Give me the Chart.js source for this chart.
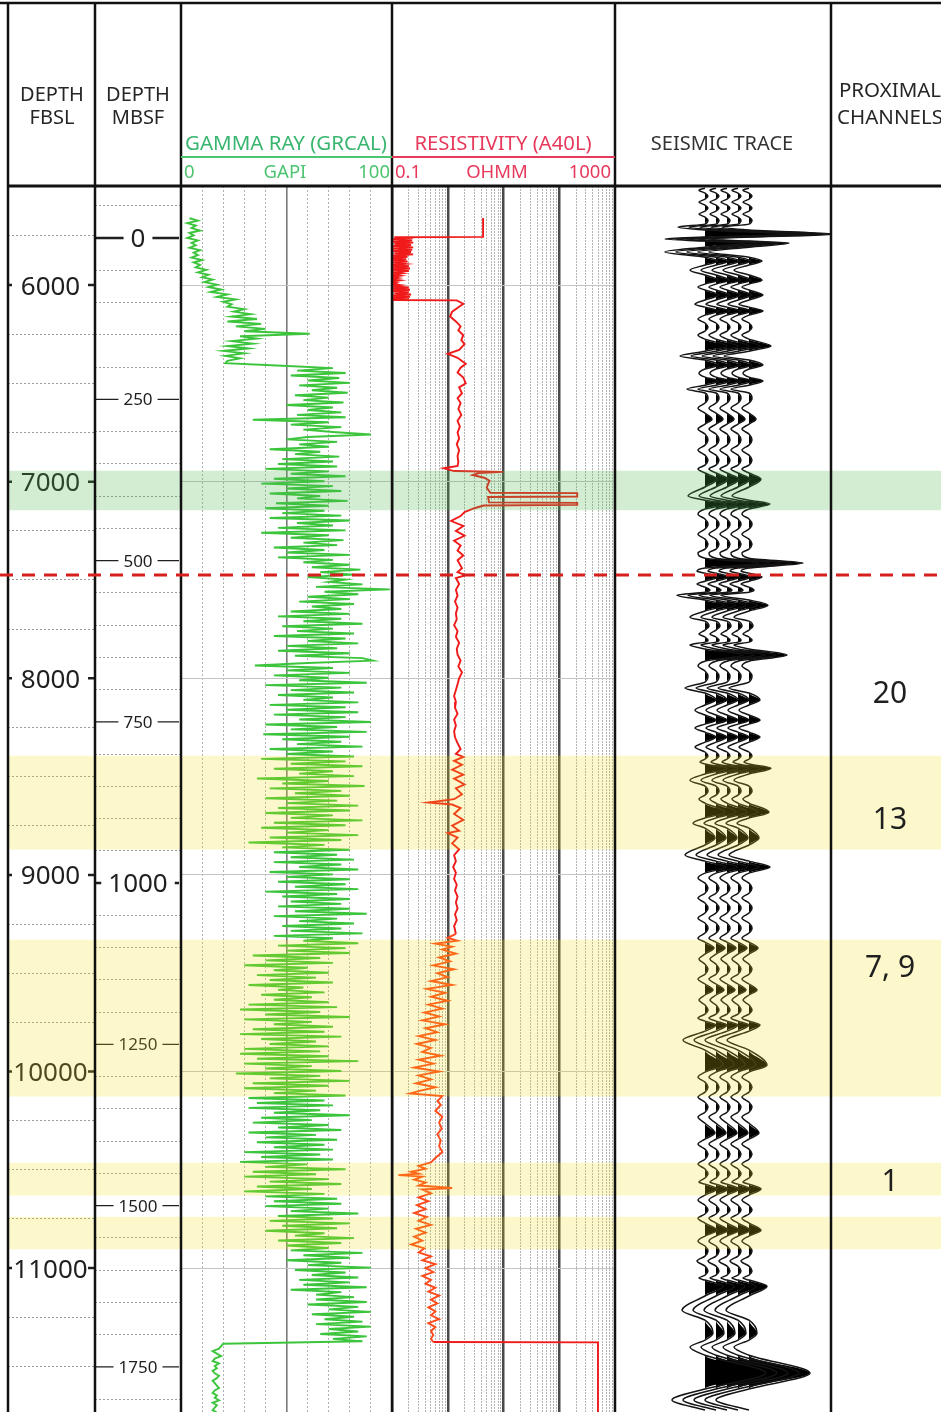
<!DOCTYPE html>
<html lang="en">
<head>
<meta charset="utf-8">
<title>Well log</title>
<script src="https://cdn.jsdelivr.net/npm/chart.js@4.4.1/dist/chart.umd.min.js"></script>
<style>
html, body { margin: 0; padding: 0; background: #fff; }
body { position: relative; width: 941px; height: 1412px; overflow: hidden; }
canvas { position: absolute; }
</style>
</head>
<body>
<canvas id="fbsl" width="87" height="1226" style="left:8px; top:186px"></canvas>
<canvas id="mbsf" width="86" height="1226" style="left:95px; top:186px"></canvas>
<canvas id="gr" width="211" height="1226" style="left:181px; top:186px"></canvas>
<canvas id="res" width="223" height="1226" style="left:392px; top:186px"></canvas>
<canvas id="seis" width="216" height="1226" style="left:615px; top:186px"></canvas>
<canvas id="overlay" width="941" height="1412" style="left:0; top:0"></canvas>
<script>
// depth window shown (ft below sea level)
const depthMin = 5496
const depthMax = 11732

// depth tracks
const fbslLabels = [6000, 7000, 8000, 9000, 10000, 11000]
const mbsfLabels = [0, 250, 500, 750, 1000, 1250, 1500, 1750]
const mbsfBigLabels = [0, 1000]
const seafloorFt = 5761
const ftPerM = 3.2808

// gamma ray, sampled every 12.5 ft from 5660 ft
const grTopDepth = 5660
const grStepFt = 12.5
const grValues = [
  4, 8, 3, 7, 5, 9, 4, 6, 3, 8, 5, 7, 4, 9, 6, 8, 5, 10, 6, 9,
  7, 12, 8, 13, 10, 15, 11, 17, 13, 19, 14, 22, 17, 26, 20, 24, 22, 30, 25, 33,
  24, 36, 22, 38, 26, 40, 30, 61, 28, 36, 24, 34, 22, 32, 20, 30, 21, 28, 22, 21,
  48, 72, 55, 78, 52, 75, 60, 80, 56, 74, 62, 79, 54, 70, 58, 77, 50, 72, 60, 76,
  55, 78, 34, 70, 52, 76, 58, 72, 90, 60, 50, 74, 56, 70, 42, 66, 54, 75, 48, 72,
  46, 74, 40, 70, 52, 78, 44, 68, 38, 72, 50, 76, 42, 66, 55, 79, 45, 70, 40, 68,
  48, 76, 42, 80, 55, 72, 46, 78, 38, 70, 52, 77, 58, 74, 44, 68, 50, 80, 46, 72,
  58, 80, 62, 85, 66, 82, 60, 78, 70, 86, 64, 99, 68, 84, 60, 80, 56, 82, 62, 76,
  52, 80, 46, 76, 58, 86, 48, 72, 55, 82, 44, 78, 60, 84, 50, 74, 46, 80, 54, 86,
  91, 60, 35, 72, 50, 80, 44, 70, 56, 88, 40, 76, 52, 82, 46, 72, 58, 84, 42, 78,
  50, 84, 44, 78, 56, 90, 40, 74, 52, 88, 39, 80, 48, 76, 55, 86, 42, 72, 50, 82,
  38, 78, 52, 86, 44, 72, 56, 82, 36, 70, 48, 87, 42, 76, 54, 80, 40, 74, 50, 84,
  46, 80, 40, 72, 52, 86, 44, 78, 38, 70, 50, 84, 42, 76, 32, 68, 48, 80, 44, 74,
  52, 82, 44, 76, 56, 84, 42, 72, 50, 80, 46, 78, 54, 84, 40, 74, 48, 80, 52, 76,
  46, 80, 54, 88, 44, 74, 56, 82, 48, 76, 52, 86, 44, 72, 58, 84, 46, 78, 50, 80,
  34, 66, 40, 72, 30, 60, 44, 70, 36, 64, 42, 72, 32, 58, 46, 68, 38, 62, 44, 70,
  32, 74, 28, 66, 40, 80, 30, 62, 44, 72, 34, 68, 28, 76, 38, 64, 42, 70, 30, 66,
  28, 70, 36, 84, 30, 62, 40, 76, 26, 66, 42, 80, 34, 70, 30, 64, 44, 78, 32, 68,
  36, 72, 32, 66, 44, 80, 38, 62, 34, 70, 46, 76, 32, 64, 40, 74, 36, 68, 44, 72,
  30, 66, 38, 72, 28, 60, 40, 78, 34, 64, 30, 70, 42, 76, 36, 62, 30, 68, 40, 74,
  44, 76, 40, 70, 52, 84, 46, 72, 42, 80, 48, 74, 40, 68, 54, 82, 46, 76, 50, 70,
  52, 86, 58, 80, 50, 76, 60, 90, 54, 78, 62, 84, 56, 80, 58, 88, 52, 76, 64, 82,
  64, 88, 60, 84, 70, 90, 62, 82, 68, 86, 64, 90, 70, 84, 66, 88, 72, 86, 20, 19,
  18, 15, 17, 19, 16, 15, 18, 16, 17, 15, 16, 18, 17, 15, 16, 17, 18, 16, 15, 17,
  16, 18, 15, 17, 16, 15, 17, 16
]
const grTicks = [0, 10, 20, 30, 40, 50, 60, 70, 80, 90, 100]

// resistivity [depth ft, ohmm]
const resLog = [
  [5659, 4.3], [5755, 4.3], [5757, 0.11],
  [5760, 0.24], [5766, 0.1], [5772, 0.23], [5778, 0.1], [5784, 0.24], [5790, 0.11], [5796, 0.22],
  [5802, 0.1], [5808, 0.24], [5814, 0.1], [5820, 0.23], [5826, 0.1], [5832, 0.22], [5838, 0.11],
  [5844, 0.24], [5850, 0.1], [5856, 0.19], [5862, 0.1], [5868, 0.18], [5874, 0.1], [5880, 0.19],
  [5886, 0.11], [5892, 0.17], [5898, 0.1], [5904, 0.2], [5910, 0.1], [5916, 0.21], [5922, 0.1],
  [5928, 0.2], [5934, 0.11], [5940, 0.15], [5946, 0.1], [5952, 0.14], [5958, 0.1], [5964, 0.13],
  [5970, 0.1], [5976, 0.14], [5982, 0.1], [5988, 0.12], [5994, 0.1], [6000, 0.14], [6006, 0.1],
  [6012, 0.2], [6018, 0.1], [6024, 0.21], [6030, 0.1], [6036, 0.2], [6042, 0.11], [6048, 0.22],
  [6054, 0.1], [6060, 0.21], [6066, 0.1], [6072, 0.2], [6076, 0.1],
  [6078, 1.45], [6095, 1.9], [6110, 1.6],
  [6135, 1.2], [6160, 1.1], [6185, 1.4], [6210, 1.7], [6230, 1.55], [6255, 1.9], [6280, 1.75],
  [6300, 2.0], [6330, 1.6], [6350, 1.0], [6370, 1.5], [6400, 2.1], [6420, 1.7], [6445, 1.5],
  [6470, 1.9], [6500, 2.1], [6520, 1.6], [6550, 1.8], [6575, 1.5], [6600, 1.7], [6630, 1.55],
  [6660, 1.75], [6690, 1.5], [6720, 1.65], [6750, 1.5], [6780, 1.6], [6810, 1.45], [6840, 1.6],
  [6870, 1.5], [6900, 1.55], [6920, 1.5], [6932, 0.85], [6946, 1.3], [6950, 9.8], [6956, 3.6],
  [6966, 2.8], [6980, 4.5], [6995, 5.6], [7030, 5.0], [7056, 5.8], [7058, 210], [7075, 210],
  [7078, 5.3], [7105, 5.5], [7108, 210], [7118, 210], [7121, 4.4], [7135, 3.0], [7155, 2.0],
  [7175, 1.7], [7200, 1.15], [7225, 1.9], [7250, 1.4], [7275, 2.0], [7300, 1.3], [7325, 1.7],
  [7350, 1.5], [7375, 1.9], [7400, 1.5], [7440, 1.8], [7460, 1.5], [7475, 2.1], [7490, 1.4],
  [7520, 1.6], [7550, 1.4], [7580, 1.5], [7610, 1.35], [7640, 1.5], [7670, 1.4], [7700, 1.45],
  [7730, 1.3], [7760, 1.5], [7790, 1.4], [7820, 1.6], [7850, 1.45], [7880, 1.5], [7910, 1.7],
  [7940, 1.55], [7970, 1.8], [8000, 1.6], [8030, 1.5], [8060, 1.4], [8090, 1.3], [8120, 1.4],
  [8150, 1.35], [8180, 1.5], [8210, 1.3], [8240, 1.4], [8270, 1.3], [8300, 1.35], [8330, 1.5],
  [8360, 1.7], [8385, 1.4], [8400, 1.9], [8420, 1.3], [8440, 1.8], [8465, 1.2], [8490, 1.9],
  [8510, 1.3], [8540, 2.0], [8560, 1.4], [8590, 1.8], [8615, 1.3], [8632, 0.45], [8642, 1.2],
  [8660, 1.7], [8690, 1.3], [8720, 1.9], [8750, 1.2], [8775, 1.6], [8787, 1.0], [8810, 1.5],
  [8840, 1.2], [8870, 1.6], [8900, 1.3], [8930, 1.4], [8960, 1.25], [8990, 1.4], [9020, 1.3],
  [9050, 1.45], [9080, 1.35], [9110, 1.5], [9140, 1.4], [9170, 1.5], [9200, 1.35], [9230, 1.45],
  [9260, 1.3], [9300, 1.4], [9320, 1.0], [9335, 1.5], [9350, 0.6], [9365, 1.2], [9380, 0.8],
  [9400, 1.4], [9420, 0.7], [9440, 1.1], [9460, 0.55], [9480, 1.3], [9500, 0.65], [9520, 1.0],
  [9540, 0.5], [9560, 1.2], [9580, 0.42], [9600, 0.9], [9620, 0.5], [9640, 1.0], [9660, 0.45],
  [9680, 0.8], [9700, 0.38], [9720, 0.7], [9740, 0.35], [9760, 0.9], [9780, 0.4], [9800, 0.65],
  [9820, 0.3], [9840, 0.6], [9860, 0.28], [9880, 0.5], [9900, 0.35], [9920, 0.75], [9940, 0.3],
  [9960, 0.55], [9980, 0.25], [10000, 0.7], [10020, 0.3], [10040, 0.5], [10060, 0.27], [10080, 0.6],
  [10100, 0.3], [10112, 0.21], [10125, 0.8], [10150, 0.65], [10170, 0.75], [10200, 0.6], [10230, 0.8],
  [10260, 0.7], [10290, 0.78], [10320, 0.65], [10350, 0.75], [10380, 0.7], [10410, 0.8], [10440, 0.6],
  [10462, 0.5], [10480, 0.3], [10495, 0.4], [10510, 0.22], [10520, 0.3], [10527, 0.13], [10535, 0.35],
  [10550, 0.25], [10565, 0.4], [10580, 0.3], [10593, 1.2], [10600, 0.35], [10620, 0.5], [10640, 0.3],
  [10660, 0.45], [10680, 0.28], [10700, 0.4], [10720, 0.25], [10740, 0.42], [10760, 0.3], [10780, 0.5],
  [10800, 0.27], [10820, 0.4], [10840, 0.25], [10860, 0.35], [10880, 0.22], [10900, 0.38], [10920, 0.3],
  [10940, 0.5], [10960, 0.35], [10980, 0.6], [11000, 0.4], [11020, 0.55], [11040, 0.35], [11060, 0.5],
  [11080, 0.4], [11100, 0.6], [11120, 0.45], [11140, 0.7], [11160, 0.5], [11180, 0.65], [11200, 0.45],
  [11220, 0.6], [11240, 0.5], [11260, 0.7], [11280, 0.45], [11300, 0.6], [11320, 0.5], [11340, 0.55],
  [11360, 0.5], [11376, 0.55], [11378, 495], [11740, 495]
]
const resDecades = [0.1, 1, 10, 100]
const resMultipliers = [1, 2, 3, 4, 5, 6, 7, 8, 9]

// seismic trace [depth ft, amplitude], repeated for each trace
const seismicTrace = [
  [5507, 0], [5517, -6], [5532, 0], [5547, 3], [5563, 0], [5578, -6], [5593, 0], [5608, 3],
  [5624, 0], [5639, -6], [5654, 0], [5669, 3], [5690, 0], [5705, -27], [5720, 0], [5741, 85],
  [5756, 0], [5766, -40], [5776, 0], [5786, 40], [5807, 0], [5832, -40], [5858, 0], [5878, 13],
  [5898, 0], [5924, -15], [5949, 0], [5975, 13], [5995, 0], [6010, -7], [6025, 0], [6051, 14],
  [6076, 0], [6097, -10], [6112, 0], [6132, 14], [6153, 0], [6173, -7], [6193, 0], [6214, 3],
  [6234, 0], [6254, -7], [6275, 0], [6310, 22], [6336, 0], [6361, -25], [6381, 0], [6407, 14],
  [6427, 0], [6448, -6], [6468, 0], [6488, 14], [6509, 0], [6529, -18], [6549, 0], [6575, 3],
  [6600, 0], [6626, -7], [6651, 0], [6682, 7], [6707, 0], [6732, -7], [6758, 0], [6788, 3],
  [6814, 0], [6839, -7], [6865, 0], [6890, 3], [6916, 0], [6936, -7], [6956, 0], [6987, 12],
  [7027, 0], [7073, -17], [7094, 0], [7114, 21], [7139, 0], [7165, -7], [7190, 0], [7216, 3],
  [7241, 0], [7267, -7], [7292, 0], [7317, 3], [7343, 0], [7363, -7], [7389, 0], [7414, 54],
  [7439, 0], [7455, -8], [7465, 0], [7485, 13], [7506, 0], [7521, -8], [7536, 0], [7551, 5],
  [7562, 0], [7577, -28], [7602, 0], [7628, 19], [7658, 0], [7689, -15], [7709, 0], [7735, 4],
  [7755, 0], [7775, -6], [7790, 0], [7806, 3], [7816, 0], [7831, -15], [7851, 0], [7882, 38],
  [7913, 0], [7938, -7], [7963, 0], [7989, 3], [8019, 0], [8050, -20], [8075, 0], [8111, 11],
  [8136, 0], [8162, -10], [8187, 0], [8213, 11], [8233, 0], [8253, -10], [8274, 0], [8299, 11],
  [8325, 0], [8350, -10], [8375, 0], [8396, 3], [8411, 0], [8426, -5], [8436, 0], [8457, 22],
  [8487, 0], [8518, -15], [8548, 0], [8574, 3], [8594, 0], [8614, -6], [8635, 0], [8681, 20],
  [8711, 0], [8737, -12], [8762, 0], [8813, 10], [8848, 0], [8899, -20], [8930, 0], [8960, 21],
  [8991, 0], [9016, -7], [9042, 0], [9067, 3], [9093, 0], [9118, -7], [9143, 0], [9169, 3],
  [9194, 0], [9220, -7], [9245, 0], [9271, 3], [9296, 0], [9322, -7], [9342, 0], [9372, 9],
  [9403, 0], [9428, -6], [9454, 0], [9479, 3], [9505, 0], [9530, -7], [9555, 0], [9586, 8],
  [9611, 0], [9637, -6], [9662, 0], [9688, 3], [9708, 0], [9728, -7], [9744, 0], [9764, 11],
  [9795, 0], [9840, -22], [9891, 0], [9968, 18], [10003, 0], [10029, -7], [10054, 0], [10079, 3],
  [10105, 0], [10130, -7], [10156, 0], [10181, 3], [10207, 0], [10232, -7], [10263, 0], [10313, 10],
  [10344, 0], [10369, -7], [10395, 0], [10420, 3], [10446, 0], [10471, -7], [10496, 0], [10522, 3],
  [10542, 0], [10563, -6], [10573, 0], [10598, 12], [10629, 0], [10654, -7], [10680, 0], [10705, 3],
  [10725, 0], [10746, -7], [10771, 0], [10807, 12], [10837, 0], [10863, -7], [10888, 0], [10914, 3],
  [10939, 0], [10964, -8], [10990, 0], [11015, 3], [11036, 0], [11051, -6], [11061, 0], [11092, 18],
  [11142, 0], [11214, -23], [11265, 0], [11331, 8], [11366, 0], [11402, -15], [11443, 0], [11534, 61],
  [11615, 0], [11671, -33], [11722, 0]
]
const traceOffsets = [0, 11, 22, 33, 44]

// highlighted intervals and marker
const bandTop = [6946, 8396, 9332, 10466, 10741]
const bandBase = [7144, 8869, 10125, 10629, 10903]
const bandKind = ['gas', 'channel', 'channel', 'channel', 'channel']
const markerDepth = 7475
const channelLabels = ['20', '13', '7, 9', '1']
const channelDepths = [8070, 8711, 9464, 10552]

const FONT = '"Noto Sans", "Open Sans", sans-serif'
const bandFill = {gas: 'rgba(80,185,80,0.25)', channel: 'rgba(240,225,20,0.22)'}

function depthAxis(ticks, grid, border) {
  return {
    type: 'linear', reverse: true, min: depthMin, max: depthMax,
    ticks: {display: false},
    border: Object.assign({display: false}, border),
    grid: Object.assign({drawTicks: false}, grid),
    afterBuildTicks: s => { s.ticks = ticks.map(v => ({value: v})) },
    afterFit: s => { s.width = 0 }
  }
}

function baseOptions(scales, yIndex) {
  return {
    responsive: false, animation: false, events: [],
    indexAxis: yIndex ? 'y' : 'x',
    layout: {padding: 0},
    plugins: {legend: {display: false}, tooltip: {enabled: false}},
    elements: {point: {radius: 0}},
    scales
  }
}

// --- FBSL depth track
const fbslMinor = []
for (let d = 5500; d <= 11500; d += 250) fbslMinor.push(d)

new Chart(document.getElementById('fbsl'), {
  type: 'line',
  data: {datasets: []},
  options: baseOptions({
    x: {display: false},
    y: depthAxis(fbslMinor,
      {color: c => c.tick.value % 1000 === 0 ? 'rgba(0,0,0,0)' : '#9a9a9a'},
      {dash: [2, 2]})
  }),
  plugins: [{
    id: 'fbslLabels',
    afterDraw(chart) {
      const {ctx, chartArea: a, scales: {y}} = chart
      ctx.save()
      ctx.fillStyle = ctx.strokeStyle = '#1f1f1f'
      ctx.font = '26px ' + FONT
      ctx.textAlign = 'center'
      fbslLabels.forEach(v => {
        const py = y.getPixelForValue(v)
        ctx.fillText(String(v), (a.left + a.right) / 2 - 1, py + 9.5)
        ctx.lineWidth = 2.5
        ctx.beginPath()
        ctx.moveTo(a.left, py); ctx.lineTo(a.left + 4, py)
        ctx.moveTo(a.right - 7, py); ctx.lineTo(a.right, py)
        ctx.stroke()
      })
      ctx.restore()
    }
  }]
})

// --- MBSF depth track (metres below sea floor)
const mbsfMinor = []
for (let m = -50; m <= 1800; m += 50) mbsfMinor.push(m)

new Chart(document.getElementById('mbsf'), {
  type: 'line',
  data: {datasets: []},
  options: baseOptions({
    x: {display: false},
    y: {
      type: 'linear', reverse: true,
      min: (depthMin - seafloorFt) / ftPerM, max: (depthMax - seafloorFt) / ftPerM,
      ticks: {display: false},
      border: {display: false, dash: [2, 2]},
      grid: {drawTicks: false, color: c => c.tick.value % 250 === 0 ? 'rgba(0,0,0,0)' : '#9a9a9a'},
      afterBuildTicks: s => { s.ticks = mbsfMinor.map(v => ({value: v})) },
      afterFit: s => { s.width = 0 }
    }
  }),
  plugins: [{
    id: 'mbsfLabels',
    afterDraw(chart) {
      const {ctx, chartArea: a, scales: {y}} = chart
      const cx = (a.left + a.right) / 2
      ctx.save()
      ctx.fillStyle = ctx.strokeStyle = '#1f1f1f'
      ctx.textAlign = 'center'
      mbsfLabels.forEach(v => {
        const big = mbsfBigLabels.includes(v)
        const size = big ? 26 : 17
        ctx.font = size + 'px ' + FONT
        const py = y.getPixelForValue(v)
        const w = ctx.measureText(String(v)).width
        ctx.fillText(String(v), cx, py + size * 0.36)
        ctx.lineWidth = big ? 2.5 : 1.4
        const gap = big ? 7 : 5
        ctx.beginPath()
        ctx.moveTo(a.left, py); ctx.lineTo(cx - w / 2 - gap, py)
        ctx.moveTo(cx + w / 2 + gap, py); ctx.lineTo(a.right - 2, py)
        ctx.stroke()
      })
      ctx.restore()
    }
  }]
})

// --- Gamma ray
new Chart(document.getElementById('gr'), {
  type: 'line',
  data: {datasets: [{
    data: grValues.map((v, i) => ({x: v, y: grTopDepth + i * grStepFt})),
    borderColor: '#3cc53c', borderWidth: 1.9, tension: 0, pointRadius: 0
  }]},
  options: baseOptions({
    x: {
      type: 'linear', min: 0, max: 100,
      ticks: {display: false},
      border: {display: false, dash: c => c.tick.value === 50 ? [] : [2, 2]},
      grid: {
        drawTicks: false,
        color: c => c.tick.value === 50 ? '#7a7a7a' : '#b0b0b0',
        lineWidth: c => c.tick.value === 50 ? 1.6 : 1
      },
      afterBuildTicks: s => { s.ticks = grTicks.map(v => ({value: v})) },
      afterFit: s => { s.height = 0 }
    },
    y: depthAxis(fbslLabels, {color: '#c4c4c4'})
  }, true)
})

// --- Resistivity (log)
const resTicks = []
resDecades.forEach(d => resMultipliers.forEach(m => resTicks.push(d * m)))
resTicks.push(1000)
const isDecade = v => Math.abs(Math.log10(v) - Math.round(Math.log10(v))) < 1e-6

new Chart(document.getElementById('res'), {
  type: 'line',
  data: {datasets: [{
    data: resLog.map(([d, r]) => ({x: r, y: d})),
    borderColor: '#f01a1a', borderWidth: 1.9, tension: 0, pointRadius: 0,
    segment: {borderColor: c => (c.p0.parsed.y > 9280 && c.p0.parsed.y < 11370) ? '#ff4a1c' : undefined}
  }]},
  options: baseOptions({
    x: {
      type: 'logarithmic', min: 0.1, max: 1000,
      ticks: {display: false},
      border: {display: false, dash: c => isDecade(c.tick.value) ? [] : [2, 1]},
      grid: {
        drawTicks: false,
        color: c => isDecade(c.tick.value) ? '#4a4a4a' : '#b4b4b4',
        lineWidth: c => isDecade(c.tick.value) ? 2.5 : 1
      },
      afterBuildTicks: s => { s.ticks = resTicks.map(v => ({value: v})) },
      afterFit: s => { s.height = 0 }
    },
    y: depthAxis(fbslLabels, {color: '#c4c4c4'})
  }, true)
})

// --- Seismic wiggle traces (positive lobes filled)
const seisSets = []
traceOffsets.forEach(off => {
  seisSets.push({
    data: seismicTrace.map(([d, a]) => ({x: off + Math.max(a, 0), y: d})),
    borderWidth: 0, backgroundColor: '#000', fill: {value: off}, order: 2
  })
  seisSets.push({
    data: seismicTrace.map(([d, a]) => ({x: off + a, y: d})),
    borderColor: '#151515', borderWidth: 1.5, fill: false, order: 1
  })
})
seisSets.forEach(s => { s.cubicInterpolationMode = 'monotone'; s.pointRadius = 0 })

new Chart(document.getElementById('seis'), {
  type: 'line',
  data: {datasets: seisSets},
  options: baseOptions({
    x: {type: 'linear', min: -90, max: 126, display: false},
    y: {type: 'linear', reverse: true, min: depthMin, max: depthMax, display: false}
  }, true)
})

// --- Overlay: zones, marker, frame, header
const frameX = [8, 95, 181, 392, 615, 831]

function label(ctx, s, x, y, size, color, align) {
  ctx.font = size + 'px ' + FONT
  ctx.fillStyle = color
  ctx.textAlign = align || 'center'
  ctx.fillText(s, x, y)
}

new Chart(document.getElementById('overlay'), {
  type: 'bar',
  data: {
    labels: ['zone'],
    datasets: bandTop.map((top, i) => ({
      data: [[top, bandBase[i]]],
      backgroundColor: bandFill[bandKind[i]],
      borderWidth: 0, grouped: false, barPercentage: 1, categoryPercentage: 1
    }))
  },
  options: {
    responsive: false, animation: false, events: [],
    layout: {padding: {left: 8, top: 186, right: 0, bottom: 0}},
    plugins: {legend: {display: false}, tooltip: {enabled: false}},
    scales: {
      x: {display: false},
      y: {display: false, reverse: true, min: depthMin, max: depthMax}
    }
  },
  plugins: [{
    id: 'frame',
    afterDraw(chart) {
      const {ctx, scales: {y}} = chart
      ctx.save()
      // frame
      ctx.strokeStyle = '#111'
      ctx.lineWidth = 2.5
      ctx.beginPath()
      frameX.forEach(x => { ctx.moveTo(x, 2); ctx.lineTo(x, 1412) })
      ctx.moveTo(0, 3); ctx.lineTo(941, 3)
      ctx.stroke()
      ctx.lineWidth = 3
      ctx.beginPath(); ctx.moveTo(8, 186); ctx.lineTo(941, 186); ctx.stroke()

      // curve headers
      ctx.lineWidth = 2
      ctx.strokeStyle = '#4cc470'
      ctx.beginPath(); ctx.moveTo(181, 157); ctx.lineTo(392, 157); ctx.stroke()
      ctx.strokeStyle = '#e6395c'
      ctx.beginPath(); ctx.moveTo(392, 157); ctx.lineTo(615, 157); ctx.stroke()

      const dark = '#262626'
      label(ctx, 'DEPTH', 52, 101, 20, dark)
      label(ctx, 'FBSL', 52, 124, 20, dark)
      label(ctx, 'DEPTH', 138, 101, 20, dark)
      label(ctx, 'MBSF', 138, 124, 20, dark)
      label(ctx, 'GAMMA RAY (GRCAL)', 286, 150, 20.5, '#38b56e')
      label(ctx, '0', 184, 178, 18.5, '#4cc470', 'left')
      label(ctx, 'GAPI', 285, 178, 18.5, '#4cc470')
      label(ctx, '100', 390, 178, 18.5, '#4cc470', 'right')
      label(ctx, 'RESISTIVITY (A40L)', 503, 150, 20.3, '#e6395c')
      label(ctx, '0.1', 395, 178, 18.5, '#e6395c', 'left')
      label(ctx, 'OHMM', 497, 178, 18.5, '#e6395c')
      label(ctx, '1000', 611, 178, 18.5, '#e6395c', 'right')
      label(ctx, 'SEISMIC TRACE', 722, 150, 20, '#333')
      label(ctx, 'PROXIMAL', 890, 97, 20.5, dark)
      label(ctx, 'CHANNELS', 890, 124, 20.5, dark)

      // channel counts
      channelLabels.forEach((s, i) => {
        label(ctx, s, 890, y.getPixelForValue(channelDepths[i]) + 11, 30, '#1f1f1f')
      })

      // marker line
      const my = y.getPixelForValue(markerDepth)
      ctx.strokeStyle = '#d81f1f'
      ctx.lineWidth = 3
      ctx.setLineDash([13, 9])
      ctx.beginPath(); ctx.moveTo(0, my); ctx.lineTo(941, my); ctx.stroke()
      ctx.restore()
    }
  }]
})
</script>
</body>
</html>
